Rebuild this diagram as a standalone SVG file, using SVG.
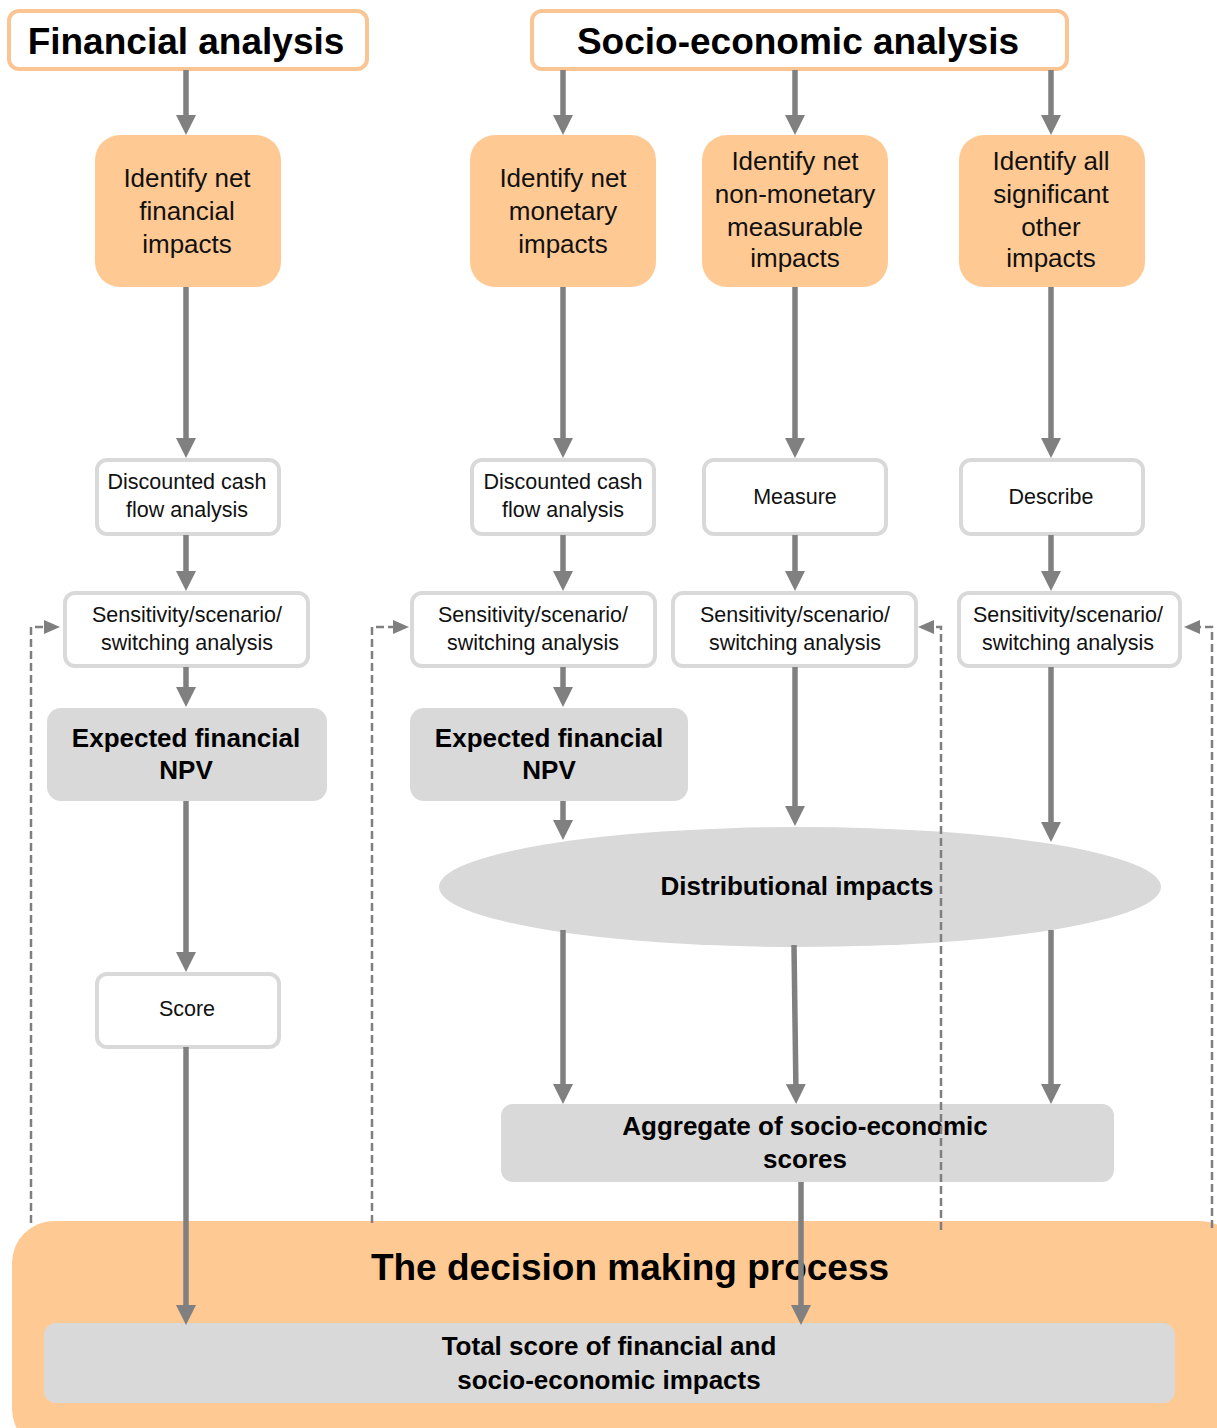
<svg xmlns="http://www.w3.org/2000/svg" width="1217" height="1428" viewBox="0 0 1217 1428">
<defs>
<style>
.hdr{fill:#fff;stroke:#FBC593;stroke-width:4}
.org{fill:#FFC994}
.wbox{fill:#fff;stroke:#D9D9D9;stroke-width:4}
.gbox{fill:#D9D9D9}
.t{font-family:"Liberation Sans",Arial,sans-serif;fill:#000;text-anchor:middle}
.th{font-size:37px;font-weight:bold}
.to{font-size:26px;fill:#111}
.ts{font-size:21.5px;fill:#111}
.tb{font-size:26px;font-weight:bold}
.tbig{font-size:37px;font-weight:bold}
.arr{stroke:#808080;stroke-width:5.5;fill:none;marker-end:url(#ah)}
.dash{stroke:#7F7F7F;stroke-width:2.5;fill:none;stroke-dasharray:8,4;marker-end:url(#dh)}
</style>
<marker id="ah" viewBox="0 0 20 20" markerWidth="20" markerHeight="20" refX="10" refY="10" orient="auto" markerUnits="userSpaceOnUse">
<path d="M0,0 L20,10 L0,20 z" fill="#808080"/>
</marker>
<marker id="dh" viewBox="0 0 16 14" markerWidth="16" markerHeight="14" refX="5" refY="7" orient="auto" markerUnits="userSpaceOnUse">
<path d="M0,0 L16,7 L0,14 z" fill="#7F7F7F"/>
</marker>
</defs>
<rect width="1217" height="1428" fill="#fff"/>

<g id="decision">
<rect class="org" x="12" y="1221" width="1230" height="230" rx="42"/>
<text class="t tbig" x="630" y="1280">The decision making process</text>
</g>
<g id="total">
<rect class="gbox" x="44" y="1323" width="1131" height="80" rx="12"/>
<text class="t tb" x="609" y="1355">Total score of financial and</text>
<text class="t tb" x="609" y="1389">socio-economic impacts</text>
</g>

<g id="fin-header">
<rect class="hdr" x="9" y="11" width="358" height="58" rx="10"/>
<text class="t th" x="186" y="54">Financial analysis</text>
</g>
<g id="soc-header">
<rect class="hdr" x="532" y="11" width="535" height="58" rx="10"/>
<text class="t th" x="798" y="54">Socio-economic analysis</text>
</g>

<g id="id-fin">
<rect class="org" x="95" y="135" width="186" height="152" rx="25"/>
<text class="t to" x="187" y="187">Identify net</text>
<text class="t to" x="187" y="220">financial</text>
<text class="t to" x="187" y="253">impacts</text>
</g>
<g id="id-mon">
<rect class="org" x="470" y="135" width="186" height="152" rx="25"/>
<text class="t to" x="563" y="187">Identify net</text>
<text class="t to" x="563" y="220">monetary</text>
<text class="t to" x="563" y="253">impacts</text>
</g>
<g id="id-nonmon">
<rect class="org" x="702" y="135" width="186" height="152" rx="25"/>
<text class="t to" x="795" y="170">Identify net</text>
<text class="t to" x="795" y="203">non-monetary</text>
<text class="t to" x="795" y="236">measurable</text>
<text class="t to" x="795" y="267">impacts</text>
</g>
<g id="id-other">
<rect class="org" x="959" y="135" width="186" height="152" rx="25"/>
<text class="t to" x="1051" y="170">Identify all</text>
<text class="t to" x="1051" y="203">significant</text>
<text class="t to" x="1051" y="236">other</text>
<text class="t to" x="1051" y="267">impacts</text>
</g>

<g id="dcf1">
<rect class="wbox" x="97" y="460" width="182" height="74" rx="10"/>
<text class="t ts" x="187" y="489">Discounted cash</text>
<text class="t ts" x="187" y="517">flow analysis</text>
</g>
<g id="dcf2">
<rect class="wbox" x="472" y="460" width="182" height="74" rx="10"/>
<text class="t ts" x="563" y="489">Discounted cash</text>
<text class="t ts" x="563" y="517">flow analysis</text>
</g>
<g id="measure">
<rect class="wbox" x="704" y="460" width="182" height="74" rx="10"/>
<text class="t ts" x="795" y="504">Measure</text>
</g>
<g id="describe">
<rect class="wbox" x="961" y="460" width="182" height="74" rx="10"/>
<text class="t ts" x="1051" y="504">Describe</text>
</g>

<g id="sens1">
<rect class="wbox" x="65" y="593" width="243" height="73" rx="10"/>
<text class="t ts" x="187" y="622">Sensitivity/scenario/</text>
<text class="t ts" x="187" y="650">switching analysis</text>
</g>
<g id="sens2">
<rect class="wbox" x="412" y="593" width="243" height="73" rx="10"/>
<text class="t ts" x="533" y="622">Sensitivity/scenario/</text>
<text class="t ts" x="533" y="650">switching analysis</text>
</g>
<g id="sens3">
<rect class="wbox" x="673" y="593" width="243" height="73" rx="10"/>
<text class="t ts" x="795" y="622">Sensitivity/scenario/</text>
<text class="t ts" x="795" y="650">switching analysis</text>
</g>
<g id="sens4">
<rect class="wbox" x="959" y="593" width="221" height="73" rx="10"/>
<text class="t ts" x="1068" y="622">Sensitivity/scenario/</text>
<text class="t ts" x="1068" y="650">switching analysis</text>
</g>

<g id="npv1">
<rect class="gbox" x="47" y="708" width="280" height="93" rx="14"/>
<text class="t tb" x="186" y="747">Expected financial</text>
<text class="t tb" x="186" y="779">NPV</text>
</g>
<g id="npv2">
<rect class="gbox" x="410" y="708" width="278" height="93" rx="14"/>
<text class="t tb" x="549" y="747">Expected financial</text>
<text class="t tb" x="549" y="779">NPV</text>
</g>

<g id="score">
<rect class="wbox" x="97" y="974" width="182" height="73" rx="10"/>
<text class="t ts" x="187" y="1016">Score</text>
</g>

<g id="distributional">
<ellipse class="gbox" cx="800" cy="887" rx="361" ry="60"/>
<text class="t tb" x="797" y="895">Distributional impacts</text>
</g>

<g id="aggregate">
<rect class="gbox" x="501" y="1104" width="613" height="78" rx="12"/>
<text class="t tb" x="805" y="1135">Aggregate of socio-economic</text>
<text class="t tb" x="805" y="1168">scores</text>
</g>

<g id="connectors">
<path class="arr" d="M186,70 V125"/>
<path class="arr" d="M563,70 V125"/>
<path class="arr" d="M795,70 V125"/>
<path class="arr" d="M1051,70 V125"/>
<path class="arr" d="M186,287 V448"/>
<path class="arr" d="M563,287 V448"/>
<path class="arr" d="M795,287 V448"/>
<path class="arr" d="M1051,287 V448"/>
<path class="arr" d="M186,535 V581"/>
<path class="arr" d="M563,535 V581"/>
<path class="arr" d="M795,535 V581"/>
<path class="arr" d="M1051,535 V581"/>
<path class="arr" d="M186,667 V697"/>
<path class="arr" d="M563,667 V697"/>
<path class="arr" d="M186,801 V962"/>
<path class="arr" d="M186,1047 V1315"/>
<path class="arr" d="M563,801 V830"/>
<path class="arr" d="M795,667 V816"/>
<path class="arr" d="M1051,667 V832"/>
<path class="arr" d="M563,930 V1094"/>
<path class="arr" d="M794,945 L796,1094"/>
<path class="arr" d="M1051,930 V1094"/>
<path class="arr" d="M801,1182 V1315"/>
<path class="dash" d="M31,1223 V627 H49"/>
<path class="dash" d="M372,1223 V627 H398"/>
<path class="dash" d="M941,1230 V627 H929"/>
<path class="dash" d="M1212,1228 V627 H1195"/>
</g>
</svg>
